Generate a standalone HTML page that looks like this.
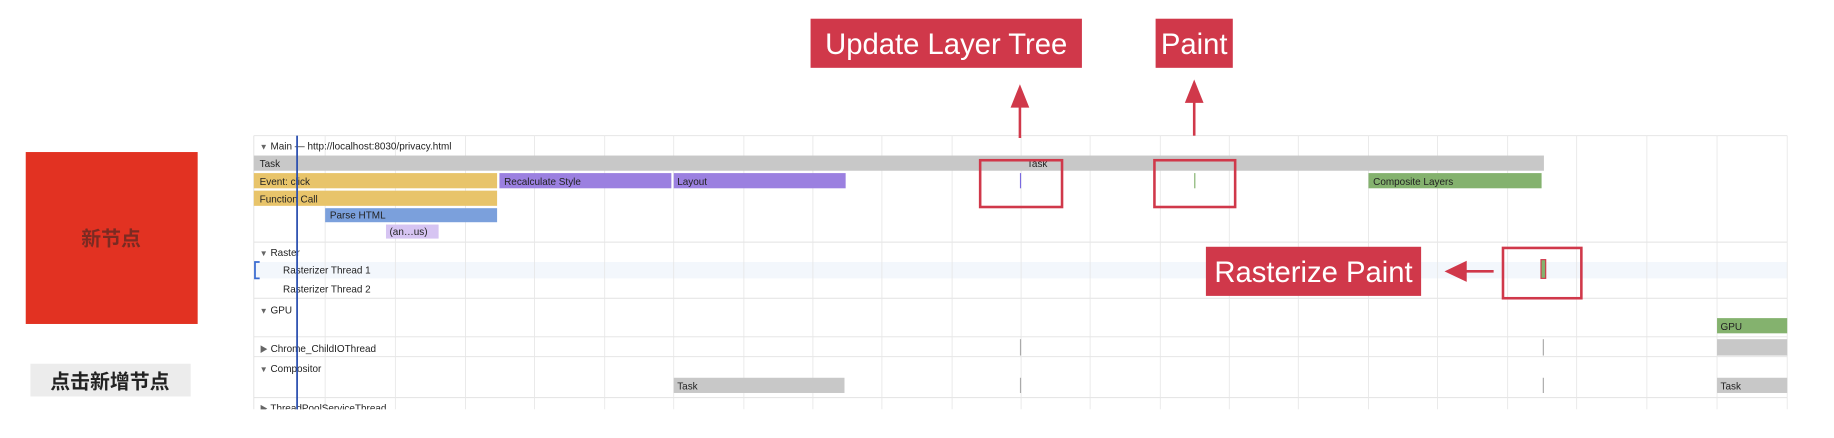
<!DOCTYPE html>
<html><head><meta charset="utf-8"><style>
html,body{margin:0;padding:0;background:#fff;width:1834px;height:438px;overflow:hidden}
svg{display:block}
text{font-family:"Liberation Sans","Noto Sans CJK SC",sans-serif}
.tri{fill:#666;font-size:7px}
</style></head><body>
<svg width="1834" height="438" viewBox="0 0 1568 374.5" preserveAspectRatio="none" xmlns="http://www.w3.org/2000/svg">
<defs><clipPath id="c"><rect x="0" y="0" width="1568" height="350"/></clipPath></defs>
<rect x="22" y="130" width="147" height="147" fill="#e23222"/>
<text x="95" y="210" font-size="17" font-weight="bold" fill="#7a2a22" text-anchor="middle">新节点</text>
<rect x="26" y="311" width="137" height="28" fill="#ececec"/>
<text x="94" y="332" font-size="17" font-weight="bold" fill="#222" text-anchor="middle">点击新增节点</text>

<g clip-path="url(#c)">
<g stroke="#e2e2e2" stroke-width="0.8">
<line x1="217" y1="116" x2="1528" y2="116"/>
<line x1="217" y1="207" x2="1528" y2="207"/>
<line x1="217" y1="255" x2="1528" y2="255"/>
<line x1="217" y1="288" x2="1528" y2="288"/>
<line x1="217" y1="305" x2="1528" y2="305"/>
<line x1="217" y1="340" x2="1528" y2="340"/>
<line x1="217" y1="116" x2="217" y2="350"/>
</g>
<rect x="217" y="224" width="1311" height="14" fill="#f3f7fc"/>
<g stroke="#e6e6e6" stroke-width="0.7">
<line x1="278" y1="116" x2="278" y2="350"/><line x1="338" y1="116" x2="338" y2="350"/>
<line x1="398" y1="116" x2="398" y2="350"/><line x1="457" y1="116" x2="457" y2="350"/>
<line x1="517" y1="116" x2="517" y2="350"/><line x1="576" y1="116" x2="576" y2="350"/>
<line x1="636" y1="116" x2="636" y2="350"/><line x1="695" y1="116" x2="695" y2="350"/>
<line x1="754" y1="116" x2="754" y2="350"/><line x1="814" y1="116" x2="814" y2="350"/>
<line x1="873" y1="116" x2="873" y2="350"/><line x1="932" y1="116" x2="932" y2="350"/>
<line x1="992" y1="116" x2="992" y2="350"/><line x1="1051" y1="116" x2="1051" y2="350"/>
<line x1="1110" y1="116" x2="1110" y2="350"/><line x1="1170" y1="116" x2="1170" y2="350"/>
<line x1="1229" y1="116" x2="1229" y2="350"/><line x1="1289" y1="116" x2="1289" y2="350"/>
<line x1="1348" y1="116" x2="1348" y2="350"/><line x1="1408" y1="116" x2="1408" y2="350"/>
<line x1="1468" y1="116" x2="1468" y2="350"/><line x1="1528" y1="116" x2="1528" y2="350"/>
</g>

<g font-size="8.5" fill="#222">
<text x="222" y="128"><tspan class="tri">▼</tspan> Main — http://localhost:8030/privacy.html</text>
<rect x="217" y="133" width="1103" height="13" fill="#c8c8c8"/>
<text x="222" y="143">Task</text><text x="878" y="143">Task</text>
<rect x="217" y="148" width="208" height="13" fill="#e8c46a"/>
<text x="222" y="158">Event: click</text>
<rect x="427" y="148" width="147" height="13" fill="#9b80e0"/>
<text x="431" y="158">Recalculate Style</text>
<rect x="576" y="148" width="147" height="13" fill="#9b80e0"/>
<text x="579" y="158">Layout</text>
<rect x="1170" y="148" width="148" height="13" fill="#84b26e"/>
<text x="1174" y="158">Composite Layers</text>
<rect x="872" y="148" width="1" height="13" fill="#7a6ae0"/>
<rect x="1021" y="148" width="1" height="13" fill="#84b26e"/>
<rect x="217" y="163" width="208" height="13" fill="#e8c46a"/>
<text x="222" y="173">Function Call</text>
<rect x="278" y="178" width="147" height="12" fill="#7ba0dc"/>
<text x="282" y="187">Parse HTML</text>
<rect x="330" y="192" width="45" height="12" fill="#d6c4f2"/>
<text x="333" y="201">(an…us)</text>
<text x="222" y="219"><tspan class="tri">▼</tspan> Raster</text>
<text x="242" y="234">Rasterizer Thread 1</text>
<text x="242" y="250">Rasterizer Thread 2</text>
<text x="222" y="268"><tspan class="tri">▼</tspan> GPU</text>
<rect x="1468" y="272" width="60" height="13" fill="#84b26e"/>
<text x="1471" y="282">GPU</text>
<text x="222" y="301"><tspan class="tri">▶</tspan> Chrome_ChildIOThread</text>
<rect x="1468" y="290" width="60" height="14" fill="#c8c8c8"/>
<text x="222" y="318"><tspan class="tri">▼</tspan> Compositor</text>
<rect x="576" y="323" width="146" height="13" fill="#c8c8c8"/>
<text x="579" y="333">Task</text>
<rect x="1468" y="323" width="60" height="13" fill="#c8c8c8"/>
<text x="1471" y="333">Task</text>
<text x="222" y="352"><tspan class="tri">▶</tspan> ThreadPoolServiceThread</text>
</g>
<g stroke="#aaa" stroke-width="1">
<line x1="872.5" y1="290" x2="872.5" y2="304"/><line x1="1319.5" y1="290" x2="1319.5" y2="304"/>
<line x1="872.5" y1="323" x2="872.5" y2="336"/><line x1="1319.5" y1="323" x2="1319.5" y2="336"/>
</g>
<path d="M222 224 H218 V238 H222" fill="none" stroke="#3a6bd0" stroke-width="1.5"/>
<line x1="254" y1="116" x2="254" y2="350" stroke="#2a4fb0" stroke-width="1.5"/>
</g>

<rect x="693" y="16" width="232" height="42" fill="#d0384a"/>
<text x="809" y="46" font-size="25" fill="#fff" text-anchor="middle">Update Layer Tree</text>
<rect x="988" y="16" width="66" height="42" fill="#d0384a"/>
<text x="1021" y="46" font-size="25" fill="#fff" text-anchor="middle">Paint</text>
<rect x="1031" y="211" width="184" height="42" fill="#d0384a"/>
<text x="1123" y="241" font-size="25" fill="#fff" text-anchor="middle">Rasterize Paint</text>
<g stroke="#d0384a" stroke-width="2.2" fill="none">
<line x1="872" y1="85" x2="872" y2="118"/>
<line x1="1021" y1="82" x2="1021" y2="116"/>
<line x1="1250" y1="232" x2="1277" y2="232"/>
<rect x="838" y="137" width="70" height="40"/>
<rect x="987" y="137" width="69" height="40"/>
<rect x="1285" y="212" width="67" height="43"/>
</g>
<g fill="#d0384a">
<polygon points="872,72 864,92 880,92"/>
<polygon points="1021,68 1013,88 1029,88"/>
<polygon points="1235,232 1254,223 1254,241"/>
</g>
<rect x="1317.5" y="222" width="4" height="16" fill="#84b26e" stroke="#d0384a" stroke-width="1"/>
</svg>
</body></html>
